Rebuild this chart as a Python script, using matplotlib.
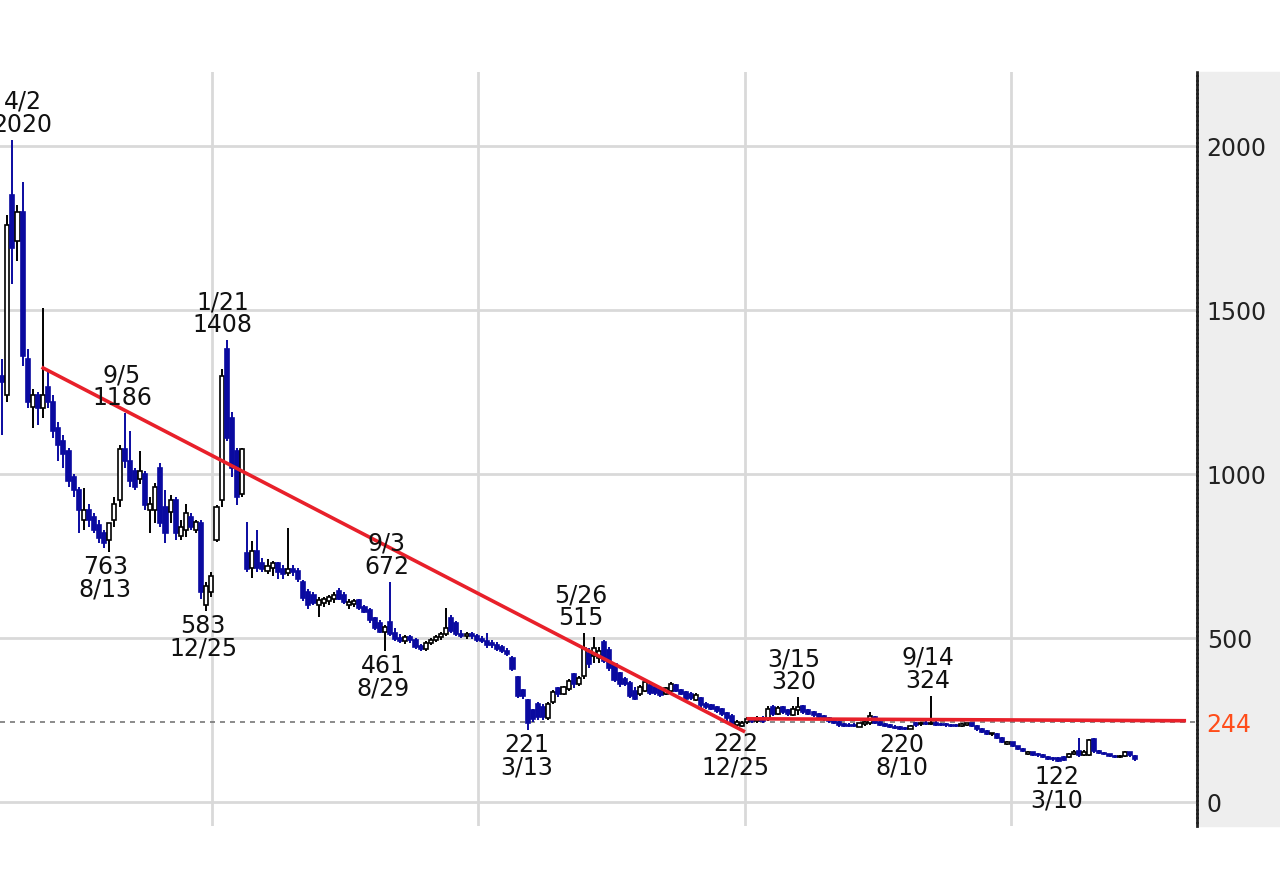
import matplotlib
matplotlib.use('Agg')
import matplotlib.pyplot as plt
import matplotlib.dates as mdates
import pandas as pd
from matplotlib.patches import Rectangle

# ---------------- data (weekly candles) ----------------
weeks = pd.date_range('2018-03-19', periods=223, freq='W-MON')

opens = [
    1300, 1240, 1850, 1710, 1800, 1350, 1205, 1240, 1200, 1265,
    1220, 1140, 1100, 1070, 990, 950, 860, 890, 870, 845,
    820, 800, 860, 920, 1075, 1040, 1010, 985, 1000, 890,
    890, 1020, 900, 884, 920, 810, 830, 870, 830, 850,
    600, 640, 800, 920, 1380, 1170, 1070, 940,
    760, 715, 765, 730, 705, 715, 728, 712, 698, 712,
    705, 672, 640, 630, 600, 606, 612, 618, 645, 630,
    600, 605, 615, 596, 585, 560, 545, 520, 548, 515,
    500, 490, 502, 495, 475, 468, 485, 495, 502, 512,
    560, 545, 512, 505, 512, 505, 498, 492, 485, 480,
    472, 462, 440, 380, 342, 310, 280, 300, 290, 255,
    305, 348, 330, 345, 390, 360, 385, 455, 445, 440,
    488, 465, 420, 392, 375, 362, 340, 328, 340, 358,
    350, 345, 330, 340, 358, 342, 335, 330, 312, 318,
    300, 295, 290, 285, 272, 262, 235, 232, 245, 255,
    248, 256, 252, 290, 270, 290, 280, 265, 282, 292,
    280, 275, 270, 262, 255, 248, 244, 238, 236, 236,
    230, 238, 240, 258, 244, 238, 234, 230, 228, 226,
    224, 240, 238, 242, 238, 242, 238, 236, 236, 234,
    232, 236, 240, 232, 222, 216, 206, 208, 196, 178,
    182, 170, 162, 146, 152, 146, 142, 138, 135, 134,
    136, 136, 146, 155, 145, 145, 192, 155, 150, 146,
    140, 136, 140, 152, 140,
]
highs = [
    1350, 1790, 2020, 1820, 1890, 1380, 1260, 1250, 1505, 1310,
    1240, 1160, 1120, 1080, 1000, 960, 957, 910, 880, 860,
    830, 850, 930, 1090, 1186, 1130, 1020, 1070, 1010, 930,
    972, 1033, 950, 936, 930, 860, 910, 880, 860, 860,
    670, 700, 905, 1320, 1408, 1190, 1080, 1080,
    853, 795, 829, 745, 740, 735, 732, 722, 835, 722,
    715, 676, 650, 640, 625, 625, 630, 640, 652, 640,
    620, 618, 620, 602, 592, 565, 555, 540, 672, 530,
    512, 508, 510, 500, 482, 490, 500, 508, 520, 591,
    570, 552, 525, 518, 520, 512, 505, 515, 495, 488,
    480, 470, 445, 385, 345, 315, 285, 305, 300, 305,
    342, 352, 355, 375, 395, 385, 515, 470, 503, 472,
    495, 472, 425, 398, 380, 368, 352, 358, 372, 362,
    355, 350, 352, 365, 360, 345, 338, 335, 332, 320,
    305, 300, 292, 288, 276, 268, 250, 246, 258, 260,
    262, 262, 292, 295, 292, 293, 285, 292, 320, 296,
    284, 278, 272, 265, 258, 250, 246, 242, 240, 240,
    242, 248, 275, 262, 248, 241, 238, 234, 232, 230,
    236, 244, 244, 246, 324, 246, 242, 240, 239, 238,
    240, 242, 242, 234, 226, 220, 212, 210, 198, 186,
    184, 172, 165, 155, 154, 150, 146, 140, 138, 136,
    140, 150, 158, 195, 158, 192, 196, 158, 152, 148,
    142, 142, 155, 154, 142,
]
lows = [
    1120, 1220, 1580, 1650, 1330, 1200, 1140, 1150, 1170, 1200,
    1110, 1040, 1020, 960, 930, 820, 829, 840, 820, 790,
    775, 763, 840, 900, 1020, 960, 950, 970, 890, 820,
    850, 840, 790, 850, 800, 800, 808, 829, 820, 620,
    583, 625, 793, 900, 1100, 990, 905, 930,
    700, 683, 700, 700, 695, 690, 680, 680, 688, 690,
    670, 612, 590, 600, 565, 595, 600, 608, 615, 605,
    590, 595, 585, 575, 545, 525, 515, 461, 505, 492,
    485, 482, 485, 466, 462, 462, 478, 488, 495, 505,
    515, 505, 500, 498, 498, 488, 485, 470, 470, 462,
    455, 445, 400, 318, 315, 221, 245, 250, 250, 250,
    300, 320, 325, 340, 348, 355, 375, 410, 424, 424,
    424, 400, 366, 350, 355, 318, 310, 322, 335, 325,
    325, 320, 325, 332, 335, 325, 310, 310, 308, 288,
    285, 280, 272, 262, 248, 232, 222, 228, 238, 240,
    242, 240, 248, 262, 265, 268, 262, 262, 266, 268,
    265, 260, 255, 248, 242, 238, 230, 228, 228, 228,
    228, 232, 236, 238, 232, 228, 225, 222, 221, 220,
    222, 230, 232, 234, 234, 232, 232, 230, 230, 230,
    230, 232, 228, 218, 212, 205, 200, 192, 180, 174,
    168, 158, 152, 142, 140, 138, 134, 128, 126, 122,
    124, 134, 142, 138, 140, 140, 150, 146, 142, 136,
    134, 133, 138, 138, 126,
]
closes = [
    1280, 1760, 1690, 1800, 1360, 1220, 1240, 1200, 1240, 1220,
    1130, 1090, 1060, 980, 950, 890, 890, 860, 830, 805,
    790, 850, 910, 1075, 1040, 980, 960, 1010, 905, 910,
    960, 850, 820, 920, 820, 840, 880, 840, 853, 640,
    660, 690, 900, 1300, 1110, 1020, 930, 1075,
    710, 765, 715, 710, 720, 728, 700, 695, 712, 700,
    680, 622, 600, 606, 615, 620, 625, 632, 620, 610,
    610, 612, 592, 580, 555, 530, 520, 535, 512, 498,
    490, 502, 495, 472, 468, 485, 495, 502, 512, 532,
    522, 512, 505, 512, 505, 495, 490, 480, 478, 468,
    462, 450, 405, 322, 322, 240, 252, 258, 258, 300,
    335, 328, 350, 368, 360, 378, 470, 420, 470, 460,
    430, 410, 372, 360, 360, 322, 315, 350, 365, 332,
    332, 325, 348, 360, 340, 330, 315, 318, 325, 295,
    290, 285, 278, 268, 255, 238, 245, 242, 252, 246,
    256, 248, 285, 270, 288, 275, 268, 285, 290, 275,
    270, 265, 260, 252, 246, 242, 235, 232, 232, 231,
    240, 244, 262, 242, 236, 232, 228, 226, 224, 223,
    232, 236, 240, 238, 242, 236, 235, 234, 233, 232,
    238, 240, 232, 222, 215, 208, 210, 196, 184, 183,
    172, 162, 156, 152, 145, 142, 138, 132, 130, 126,
    128, 148, 152, 145, 152, 188, 155, 150, 146, 140,
    137, 140, 152, 142, 130,
]
assert len(opens) == len(highs) == len(lows) == len(closes) == len(weeks)

# labelled extremes
high_dates = ['2018-04-02', '2018-09-05', '2019-01-21', '2019-09-03',
              '2020-05-26', '2021-03-15', '2021-09-14']
high_values = [2020, 1186, 1408, 672, 515, 320, 324]
low_dates = ['2018-08-13', '2018-12-25', '2019-08-29', '2020-03-13',
             '2020-12-25', '2021-08-10', '2022-03-10']
low_values = [763, 583, 461, 221, 222, 220, 122]

# trend lines
trend1_dates = ['2018-05-12', '2021-01-01']
trend1_values = [1326, 214]
trend2_dates = ['2021-01-03', '2022-08-29']
trend2_values = [254, 248]
support_level = 244

y_ticks = [0, 500, 1000, 1500, 2000]
year_lines = ['2019-01-01', '2020-01-01', '2021-01-01', '2022-01-01']

# ---------------- styling ----------------
W, H = 1280, 886
BLUE = '#0a0aa0'
RED = '#e8202a'
GRID = '#d9d9d9'
FS = 17

fig = plt.figure(figsize=(W / 100, H / 100), dpi=100)
fig.patch.set_facecolor('white')
panel = Rectangle((1198 / W, 60 / H), 82 / W, 754 / H,
                  transform=fig.transFigure, color='#eeeeee', zorder=-5)
fig.add_artist(panel)
ax = fig.add_axes([0, 60 / H, 1197 / W, 754 / H])
ax.set_zorder(1)
ax.set_facecolor('white')

x0 = mdates.date2num(pd.Timestamp('2018-03-16'))
x1 = mdates.date2num(pd.Timestamp('2022-09-13'))
ax.set_xlim(x0, x1)
ax.set_ylim(-73, 2226)

# grid
for v in y_ticks:
    ax.axhline(v, color=GRID, lw=2, zorder=1)
for d in year_lines:
    ax.axvline(mdates.date2num(pd.Timestamp(d)), color=GRID, lw=2, zorder=1)

ax.axhline(support_level, color='#777777', lw=1.2, ls=(0, (3, 3)), zorder=2)

# candles
xs = mdates.date2num(weeks)
bw = 5.6
for x, o, h, l, c in zip(xs, opens, highs, lows, closes):
    up = c >= o
    col = 'black' if up else BLUE
    ax.vlines(x, l, h, color=col, lw=1.4, zorder=3)
    bottom = min(o, c)
    height = max(abs(c - o), 3)
    ax.bar(x, height, bottom=bottom, width=bw,
           facecolor='white' if up else BLUE, edgecolor=col,
           linewidth=1.2, zorder=4)

# trend lines
ax.plot(mdates.date2num(pd.to_datetime(trend1_dates)), trend1_values,
        color=RED, lw=2.6, zorder=5, solid_capstyle='butt')
ax.plot(mdates.date2num(pd.to_datetime(trend2_dates)), trend2_values,
        color=RED, lw=2.6, zorder=5, solid_capstyle='butt')

# annotations
for i, (d, v) in enumerate(zip(high_dates, high_values)):
    t = pd.Timestamp(d)
    dx = 10 if i == 0 else -4
    ax.annotate(f"{t.month}/{t.day}\n{v}", xy=(mdates.date2num(t), v),
                xytext=(dx, 3), textcoords='offset pixels', ha='center',
                va='bottom', fontsize=FS, linespacing=0.95, color='#111111',
                annotation_clip=False, zorder=6)
for d, v in zip(low_dates, low_values):
    t = pd.Timestamp(d)
    ax.annotate(f"{v}\n{t.month}/{t.day}", xy=(mdates.date2num(t), v),
                xytext=(-4, -3), textcoords='offset pixels', ha='center',
                va='top', fontsize=FS, linespacing=0.95, color='#111111',
                annotation_clip=False, zorder=6)

# axes
ax.set_xticks([])
ax.yaxis.tick_right()
ticks = y_ticks + [support_level]
ax.set_yticks(ticks)
ax.set_yticklabels([str(t) for t in ticks])
ax.tick_params(axis='y', length=0, pad=7, labelsize=FS, labelcolor='#222222')
for lab in ax.get_yticklabels():
    if lab.get_text() == str(support_level):
        lab.set_color('#ff4d1a')
for s in ['top', 'left', 'bottom']:
    ax.spines[s].set_visible(False)
ax.spines['right'].set_linestyle((0, (1, 0.6)))
ax.spines['right'].set_color('#222222')
ax.spines['right'].set_linewidth(2)

fig.savefig('out.png', dpi=100)
